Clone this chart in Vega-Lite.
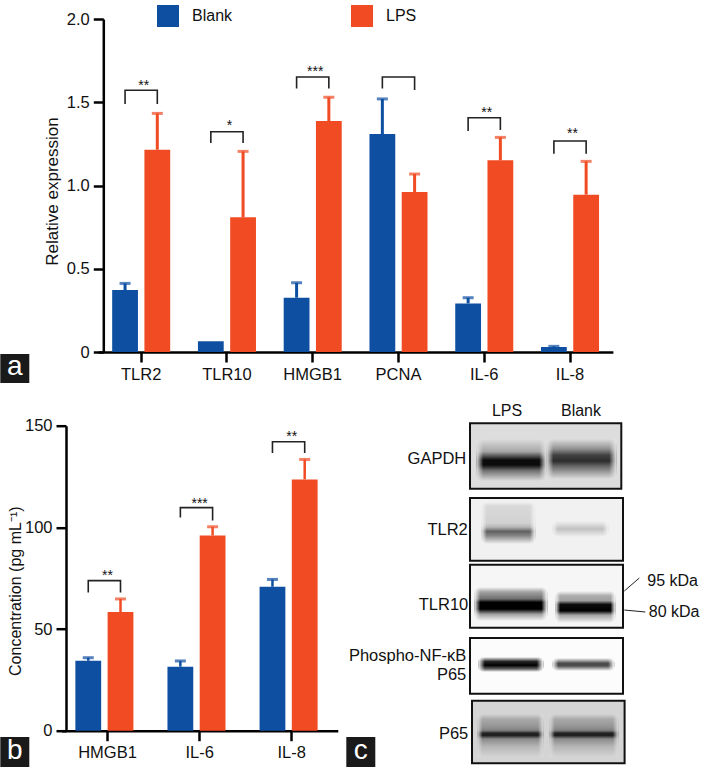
{
"$schema":"https://vega.github.io/schema/vega-lite/v6.json",
"background":"white",
"padding":{"left":0,"top":5,"right":0,"bottom":0},
"bounds":"flush",
"spacing":73.7,
"config":{"view":{"stroke":null},"font":"Liberation Sans","axis":{"grid":false,"domainColor":"#000","tickColor":"#000","domainWidth":2.5,"tickWidth":2.5,"tickSize":10,"labelColor":"#111","titleColor":"#111","labelFontSize":16.5,"titleFontSize":16,"titleFontWeight":"normal","labelFont":"Liberation Sans","titleFont":"Liberation Sans","labelPadding":4}},
"datasets":{
"expr":[
{"gene":"TLR2","group":"Blank","value":0.372,"upper":0.412},{"gene":"TLR2","group":"LPS","value":1.215,"upper":1.433},
{"gene":"TLR10","group":"Blank","value":0.064,"upper":null},{"gene":"TLR10","group":"LPS","value":0.809,"upper":1.205},
{"gene":"HMGB1","group":"Blank","value":0.326,"upper":0.416},{"gene":"HMGB1","group":"LPS","value":1.387,"upper":1.53},
{"gene":"PCNA","group":"Blank","value":1.309,"upper":1.52},{"gene":"PCNA","group":"LPS","value":0.961,"upper":1.069},
{"gene":"IL-6","group":"Blank","value":0.292,"upper":0.326},{"gene":"IL-6","group":"LPS","value":1.151,"upper":1.289},
{"gene":"IL-8","group":"Blank","value":0.03,"upper":0.034},{"gene":"IL-8","group":"LPS","value":0.945,"upper":1.145}],
"exprBr":[
{"gene":"TLR2","group":"Blank","y":1.49,"seq":1},{"gene":"TLR2","group":"Blank","y":1.572,"seq":2},{"gene":"TLR2","group":"LPS","y":1.572,"seq":3},{"gene":"TLR2","group":"LPS","y":1.49,"seq":4},
{"gene":"TLR10","group":"Blank","y":1.255,"seq":1},{"gene":"TLR10","group":"Blank","y":1.323,"seq":2},{"gene":"TLR10","group":"LPS","y":1.323,"seq":3},{"gene":"TLR10","group":"LPS","y":1.255,"seq":4},
{"gene":"HMGB1","group":"Blank","y":1.582,"seq":1},{"gene":"HMGB1","group":"Blank","y":1.652,"seq":2},{"gene":"HMGB1","group":"LPS","y":1.652,"seq":3},{"gene":"HMGB1","group":"LPS","y":1.582,"seq":4},
{"gene":"PCNA","group":"Blank","y":1.582,"seq":1},{"gene":"PCNA","group":"Blank","y":1.652,"seq":2},{"gene":"PCNA","group":"LPS","y":1.652,"seq":3},{"gene":"PCNA","group":"LPS","y":1.574,"seq":4},
{"gene":"IL-6","group":"Blank","y":1.327,"seq":1},{"gene":"IL-6","group":"Blank","y":1.407,"seq":2},{"gene":"IL-6","group":"LPS","y":1.407,"seq":3},{"gene":"IL-6","group":"LPS","y":1.333,"seq":4},
{"gene":"IL-8","group":"Blank","y":1.19,"seq":1},{"gene":"IL-8","group":"Blank","y":1.267,"seq":2},{"gene":"IL-8","group":"LPS","y":1.267,"seq":3},{"gene":"IL-8","group":"LPS","y":1.19,"seq":4}],
"exprStars":[{"gene":"TLR2","stars":"**","y":1.614},{"gene":"TLR10","stars":"*","y":1.373},{"gene":"HMGB1","stars":"***","y":1.698},{"gene":"IL-6","stars":"**","y":1.451},{"gene":"IL-8","stars":"**","y":1.325}],
"conc":[
{"gene":"HMGB1","group":"Blank","value":34.4,"upper":35.9},{"gene":"HMGB1","group":"LPS","value":58.4,"upper":64.8},
{"gene":"IL-6","group":"Blank","value":31.5,"upper":34.3},{"gene":"IL-6","group":"LPS","value":96,"upper":100.3},
{"gene":"IL-8","group":"Blank","value":70.8,"upper":74.4},{"gene":"IL-8","group":"LPS","value":123.6,"upper":133.4}],
"concBr":[
{"gene":"HMGB1","group":"Blank","y":68,"seq":1},{"gene":"HMGB1","group":"Blank","y":73.8,"seq":2},{"gene":"HMGB1","group":"LPS","y":73.8,"seq":3},{"gene":"HMGB1","group":"LPS","y":68,"seq":4},
{"gene":"IL-6","group":"Blank","y":104.8,"seq":1},{"gene":"IL-6","group":"Blank","y":109.7,"seq":2},{"gene":"IL-6","group":"LPS","y":109.7,"seq":3},{"gene":"IL-6","group":"LPS","y":103.4,"seq":4},
{"gene":"IL-8","group":"Blank","y":136.6,"seq":1},{"gene":"IL-8","group":"Blank","y":142.1,"seq":2},{"gene":"IL-8","group":"LPS","y":142.1,"seq":3},{"gene":"IL-8","group":"LPS","y":136.6,"seq":4}],
"concStars":[{"gene":"HMGB1","stars":"**","y":77.5},{"gene":"IL-6","stars":"***","y":113},{"gene":"IL-8","stars":"**","y":146}],
"frames":[
{"blot":"GAPDH","x":469.7,"x2":621,"y":424.3,"y2":489.7,"density":0.12},{"blot":"TLR2","x":469.7,"x2":622.7,"y":499,"y2":561.7,"density":0.05},{"blot":"TLR10","x":469.7,"x2":622.7,"y":565.7,"y2":628.7,"density":0.03},{"blot":"Phospho","x":469.7,"x2":622.7,"y":639,"y2":694.7,"density":0.01},{"blot":"P65","x":471.7,"x2":624.3,"y":701.7,"y2":764.3,"density":0.15}],
"lanes":[
{"band":"GAPDH LPS","blot":"GAPDH","x":476,"x2":546,"y":440,"y2":482},
{"band":"GAPDH Blank","blot":"GAPDH","x":546,"x2":616,"y":440,"y2":480},
{"band":"TLR2 LPS","blot":"TLR2","x":481,"x2":535,"y":503,"y2":545},
{"band":"TLR2 Blank","blot":"TLR2","x":552,"x2":608,"y":522,"y2":538},
{"band":"TLR10 LPS","blot":"TLR10","x":474,"x2":547,"y":588,"y2":622},
{"band":"TLR10 Blank","blot":"TLR10","x":555,"x2":615,"y":592,"y2":624},
{"band":"Phospho LPS","blot":"Phospho","x":478,"x2":543,"y":658,"y2":673},
{"band":"Phospho Blank","blot":"Phospho","x":552,"x2":614,"y":659,"y2":672},
{"band":"P65 LPS","blot":"P65","x":477,"x2":543,"y":715,"y2":758},
{"band":"P65 Blank","blot":"P65","x":549,"x2":618,"y":715,"y2":758}],
"leaders":[{"x":624,"x2":639,"y":592,"y2":579},{"x":624,"x2":645,"y":611,"y2":613}],
"rightLabels":[{"t":"GAPDH","x":466,"y":460},{"t":"TLR2","x":467.5,"y":531},{"t":"TLR10","x":468,"y":606},{"t":"Phospho-NF-κB","x":466,"y":657},{"t":"P65","x":466,"y":676},{"t":"P65","x":468,"y":735}],
"centerLabels":[{"t":"LPS","x":506.7,"y":412},{"t":"Blank","x":580.7,"y":412}],
"leftLabels":[{"t":"95 kDa","x":647,"y":582},{"t":"80 kDa","x":648.5,"y":613}],
"badges":[{"t":"a","x":0,"x2":29,"y":355,"y2":384,"cx":14.5,"cy":368},{"t":"b","x":0,"x2":29,"y":738,"y2":768,"cx":14.5,"cy":752},{"t":"c","x":346,"x2":375,"y":738,"y2":768,"cx":360.5,"cy":752}]
},
"vconcat":[
{"width":546,"height":333,
"encoding":{
"x":{"field":"gene","type":"nominal","scale":{"domain":["TLR2","TLR10","HMGB1","PCNA","IL-6","IL-8"],"range":[32.3,546.9],"paddingInner":0,"paddingOuter":0},"axis":{"title":null,"labelAngle":0}},
"xOffset":{"field":"group","type":"nominal","scale":{"domain":["Blank","LPS"],"paddingInner":0.2,"paddingOuter":0.43}}
},
"layer":[
{"data":{"name":"expr"},"mark":{"type":"bar"},"encoding":{
"y":{"field":"value","type":"quantitative","scale":{"domain":[0,2],"nice":false},"axis":{"title":"Relative expression","values":[0,0.5,1,1.5,2],"labelExpr":"datum.value==0?'0':format(datum.value,'.1f')","offset":-37.3,"titlePadding":5,"titleFontSize":17,"titleY":172}},
"color":{"field":"group","type":"nominal","scale":{"domain":["Blank","LPS"],"range":["#0F4FA2","#F04B23"]},"legend":{"title":null,"orient":"none","legendX":91,"legendY":-14,"direction":"horizontal","symbolType":"square","symbolSize":484,"symbolStrokeWidth":0,"labelFontSize":16,"labelColor":"#111","labelOffset":13,"columnPadding":118}}}},
{"data":{"name":"expr"},"transform":[{"filter":"datum.upper!=null"}],"mark":{"type":"rule","strokeWidth":3},"encoding":{
"y":{"field":"value","type":"quantitative"},"y2":{"field":"upper"},
"color":{"field":"group","type":"nominal","legend":null}}},
{"data":{"name":"expr"},"transform":[{"filter":"datum.upper!=null"}],"mark":{"type":"tick","thickness":3,"size":11},"encoding":{
"y":{"field":"upper","type":"quantitative"},
"color":{"field":"group","type":"nominal","legend":null}}},
{"data":{"name":"exprBr"},"mark":{"type":"line","color":"#222","strokeWidth":1.6,"xOffset":2},"encoding":{
"y":{"field":"y","type":"quantitative"},"detail":{"field":"gene"},"order":{"field":"seq"}}},
{"data":{"name":"exprStars"},"mark":{"type":"text","fontSize":14,"color":"#111","xOffset":2.5,"dy":3},"encoding":{
"y":{"field":"y","type":"quantitative"},"text":{"field":"stars"},"xOffset":null}}
]},
{"hconcat":[
{"width":266,"height":305,
"encoding":{
"x":{"field":"gene","type":"nominal","scale":{"domain":["HMGB1","IL-6","IL-8"],"range":[-4.5,271.8],"paddingInner":0,"paddingOuter":0},"axis":{"title":null,"labelAngle":0}},
"xOffset":{"field":"group","type":"nominal","scale":{"domain":["Blank","LPS"],"paddingInner":0.3,"paddingOuter":0.4}}
},
"layer":[
{"data":{"name":"conc"},"mark":{"type":"bar"},"encoding":{
"y":{"field":"value","type":"quantitative","scale":{"domain":[0,150],"nice":false},"axis":{"title":"Concentration (pg mL⁻¹)","values":[0,50,100,150],"titlePadding":1,"titleY":165}},
"color":{"field":"group","type":"nominal","scale":{"domain":["Blank","LPS"],"range":["#0F4FA2","#F04B23"]},"legend":null}}},
{"data":{"name":"conc"},"mark":{"type":"rule","strokeWidth":2.5},"encoding":{
"y":{"field":"value","type":"quantitative"},"y2":{"field":"upper"},
"color":{"field":"group","type":"nominal","legend":null}}},
{"data":{"name":"conc"},"mark":{"type":"tick","thickness":3,"size":11},"encoding":{
"y":{"field":"upper","type":"quantitative"},
"color":{"field":"group","type":"nominal","legend":null}}},
{"data":{"name":"concBr"},"mark":{"type":"line","color":"#222","strokeWidth":1.6},"encoding":{
"y":{"field":"y","type":"quantitative"},"detail":{"field":"gene"},"order":{"field":"seq"}}},
{"data":{"name":"concStars"},"mark":{"type":"text","fontSize":14,"color":"#111","dy":3},"encoding":{
"y":{"field":"y","type":"quantitative"},"text":{"field":"stars"},"xOffset":null}}
]},
{"width":359,"height":341.3,
"encoding":{
"x":{"field":"x","type":"quantitative","scale":{"domain":[346,705],"nice":false,"zero":false},"axis":null},
"y":{"field":"y","type":"quantitative","scale":{"domain":[426.7,768],"reverse":true,"nice":false,"zero":false},"axis":null}
},
"layer":[
{"data":{"name":"frames"},"mark":{"type":"rect"},"encoding":{"x2":{"field":"x2"},"y2":{"field":"y2"},"color":{"field":"density","type":"quantitative","scale":{"domain":[0,1],"range":["#ffffff","#000000"]},"legend":null}}},
{"data":{"name":"lanes"},"transform":[{"filter":"datum.band=='GAPDH LPS'"}],"mark":{"type":"rect","cornerRadius":6,"fill":{"gradient":"linear","x1":0,"y1":0,"x2":0,"y2":1,"stops":[{"offset":0,"color":"rgba(0,0,0,0)"},{"offset":0.3,"color":"rgba(0,0,0,0.25)"},{"offset":0.4,"color":"rgba(0,0,0,0.6)"},{"offset":0.5,"color":"rgba(0,0,0,0.95)"},{"offset":0.62,"color":"rgba(0,0,0,0.95)"},{"offset":0.75,"color":"rgba(0,0,0,0.5)"},{"offset":1,"color":"rgba(0,0,0,0)"}]}},"encoding":{"x2":{"field":"x2"},"y2":{"field":"y2"}}},
{"data":{"name":"lanes"},"transform":[{"filter":"datum.band=='GAPDH Blank'"}],"mark":{"type":"rect","cornerRadius":6,"fill":{"gradient":"linear","x1":0,"y1":0,"x2":0,"y2":1,"stops":[{"offset":0,"color":"rgba(0,0,0,0)"},{"offset":0.25,"color":"rgba(0,0,0,0.35)"},{"offset":0.4,"color":"rgba(0,0,0,0.7)"},{"offset":0.55,"color":"rgba(0,0,0,0.8)"},{"offset":0.7,"color":"rgba(0,0,0,0.5)"},{"offset":1,"color":"rgba(0,0,0,0)"}]}},"encoding":{"x2":{"field":"x2"},"y2":{"field":"y2"}}},
{"data":{"name":"lanes"},"transform":[{"filter":"datum.band=='TLR2 LPS'"}],"mark":{"type":"rect","cornerRadius":6,"fill":{"gradient":"linear","x1":0,"y1":0,"x2":0,"y2":1,"stops":[{"offset":0,"color":"rgba(0,0,0,0)"},{"offset":0.1,"color":"rgba(0,0,0,0.1)"},{"offset":0.5,"color":"rgba(0,0,0,0.13)"},{"offset":0.6,"color":"rgba(0,0,0,0.25)"},{"offset":0.7,"color":"rgba(0,0,0,0.6)"},{"offset":0.8,"color":"rgba(0,0,0,0.45)"},{"offset":1,"color":"rgba(0,0,0,0)"}]}},"encoding":{"x2":{"field":"x2"},"y2":{"field":"y2"}}},
{"data":{"name":"lanes"},"transform":[{"filter":"datum.band=='TLR2 Blank'"}],"mark":{"type":"rect","cornerRadius":5,"fill":{"gradient":"linear","x1":0,"y1":0,"x2":0,"y2":1,"stops":[{"offset":0,"color":"rgba(0,0,0,0)"},{"offset":0.5,"color":"rgba(0,0,0,0.2)"},{"offset":1,"color":"rgba(0,0,0,0)"}]}},"encoding":{"x2":{"field":"x2"},"y2":{"field":"y2"}}},
{"data":{"name":"lanes"},"transform":[{"filter":"datum.band=='TLR10 LPS'"}],"mark":{"type":"rect","cornerRadius":6,"fill":{"gradient":"linear","x1":0,"y1":0,"x2":0,"y2":1,"stops":[{"offset":0,"color":"rgba(0,0,0,0)"},{"offset":0.15,"color":"rgba(0,0,0,0.35)"},{"offset":0.35,"color":"rgba(0,0,0,0.55)"},{"offset":0.45,"color":"rgba(0,0,0,1)"},{"offset":0.65,"color":"rgba(0,0,0,1)"},{"offset":0.8,"color":"rgba(0,0,0,0.35)"},{"offset":1,"color":"rgba(0,0,0,0)"}]}},"encoding":{"x2":{"field":"x2"},"y2":{"field":"y2"}}},
{"data":{"name":"lanes"},"transform":[{"filter":"datum.band=='TLR10 Blank'"}],"mark":{"type":"rect","cornerRadius":6,"fill":{"gradient":"linear","x1":0,"y1":0,"x2":0,"y2":1,"stops":[{"offset":0,"color":"rgba(0,0,0,0)"},{"offset":0.15,"color":"rgba(0,0,0,0.3)"},{"offset":0.3,"color":"rgba(0,0,0,0.35)"},{"offset":0.42,"color":"rgba(0,0,0,0.95)"},{"offset":0.62,"color":"rgba(0,0,0,1)"},{"offset":0.75,"color":"rgba(0,0,0,0.35)"},{"offset":1,"color":"rgba(0,0,0,0)"}]}},"encoding":{"x2":{"field":"x2"},"y2":{"field":"y2"}}},
{"data":{"name":"lanes"},"transform":[{"filter":"datum.band=='Phospho LPS'"}],"mark":{"type":"rect","cornerRadius":5,"fill":{"gradient":"linear","x1":0,"y1":0,"x2":0,"y2":1,"stops":[{"offset":0,"color":"rgba(0,0,0,0)"},{"offset":0.3,"color":"rgba(0,0,0,0.85)"},{"offset":0.55,"color":"rgba(0,0,0,1)"},{"offset":0.8,"color":"rgba(0,0,0,0.6)"},{"offset":1,"color":"rgba(0,0,0,0)"}]}},"encoding":{"x2":{"field":"x2"},"y2":{"field":"y2"}}},
{"data":{"name":"lanes"},"transform":[{"filter":"datum.band=='Phospho Blank'"}],"mark":{"type":"rect","cornerRadius":5,"fill":{"gradient":"linear","x1":0,"y1":0,"x2":0,"y2":1,"stops":[{"offset":0,"color":"rgba(0,0,0,0)"},{"offset":0.4,"color":"rgba(0,0,0,0.7)"},{"offset":0.6,"color":"rgba(0,0,0,0.7)"},{"offset":1,"color":"rgba(0,0,0,0)"}]}},"encoding":{"x2":{"field":"x2"},"y2":{"field":"y2"}}},
{"data":{"name":"lanes"},"transform":[{"filter":"datum.blot=='P65'"}],"mark":{"type":"rect","cornerRadius":6,"fill":{"gradient":"linear","x1":0,"y1":0,"x2":0,"y2":1,"stops":[{"offset":0,"color":"rgba(0,0,0,0)"},{"offset":0.12,"color":"rgba(0,0,0,0.2)"},{"offset":0.3,"color":"rgba(0,0,0,0.3)"},{"offset":0.38,"color":"rgba(0,0,0,0.4)"},{"offset":0.45,"color":"rgba(0,0,0,0.85)"},{"offset":0.5,"color":"rgba(0,0,0,0.85)"},{"offset":0.58,"color":"rgba(0,0,0,0.35)"},{"offset":0.75,"color":"rgba(0,0,0,0.15)"},{"offset":1,"color":"rgba(0,0,0,0)"}]}},"encoding":{"x2":{"field":"x2"},"y2":{"field":"y2"}}},
{"data":{"name":"lanes"},"transform":[{"filter":"datum.blot=='GAPDH'"}],"mark":{"type":"rect","fill":{"gradient":"linear","x1":0,"y1":0,"x2":1,"y2":0,"stops":[{"offset":0,"color":"rgba(224,224,224,1)"},{"offset":0.1,"color":"rgba(224,224,224,0)"},{"offset":0.9,"color":"rgba(224,224,224,0)"},{"offset":1,"color":"rgba(224,224,224,1)"}]}},"encoding":{"x2":{"field":"x2"},"y2":{"field":"y2"}}},
{"data":{"name":"lanes"},"transform":[{"filter":"datum.blot=='TLR2'"}],"mark":{"type":"rect","fill":{"gradient":"linear","x1":0,"y1":0,"x2":1,"y2":0,"stops":[{"offset":0,"color":"rgba(242,242,242,1)"},{"offset":0.1,"color":"rgba(242,242,242,0)"},{"offset":0.9,"color":"rgba(242,242,242,0)"},{"offset":1,"color":"rgba(242,242,242,1)"}]}},"encoding":{"x2":{"field":"x2"},"y2":{"field":"y2"}}},
{"data":{"name":"lanes"},"transform":[{"filter":"datum.blot=='TLR10'"}],"mark":{"type":"rect","fill":{"gradient":"linear","x1":0,"y1":0,"x2":1,"y2":0,"stops":[{"offset":0,"color":"rgba(247,247,247,1)"},{"offset":0.08,"color":"rgba(247,247,247,0)"},{"offset":0.92,"color":"rgba(247,247,247,0)"},{"offset":1,"color":"rgba(247,247,247,1)"}]}},"encoding":{"x2":{"field":"x2"},"y2":{"field":"y2"}}},
{"data":{"name":"lanes"},"transform":[{"filter":"datum.blot=='Phospho'"}],"mark":{"type":"rect","fill":{"gradient":"linear","x1":0,"y1":0,"x2":1,"y2":0,"stops":[{"offset":0,"color":"rgba(252,252,252,1)"},{"offset":0.1,"color":"rgba(252,252,252,0)"},{"offset":0.9,"color":"rgba(252,252,252,0)"},{"offset":1,"color":"rgba(252,252,252,1)"}]}},"encoding":{"x2":{"field":"x2"},"y2":{"field":"y2"}}},
{"data":{"name":"lanes"},"transform":[{"filter":"datum.blot=='P65'"}],"mark":{"type":"rect","fill":{"gradient":"linear","x1":0,"y1":0,"x2":1,"y2":0,"stops":[{"offset":0,"color":"rgba(217,217,217,1)"},{"offset":0.08,"color":"rgba(217,217,217,0)"},{"offset":0.92,"color":"rgba(217,217,217,0)"},{"offset":1,"color":"rgba(217,217,217,1)"}]}},"encoding":{"x2":{"field":"x2"},"y2":{"field":"y2"}}},
{"data":{"name":"frames"},"mark":{"type":"rect","fill":null,"stroke":"#111","strokeWidth":2},"encoding":{"x2":{"field":"x2"},"y2":{"field":"y2"}}},
{"data":{"name":"leaders"},"mark":{"type":"rule","color":"#222","strokeWidth":1},"encoding":{"x2":{"field":"x2"},"y2":{"field":"y2"}}},
{"data":{"name":"rightLabels"},"mark":{"type":"text","align":"right","baseline":"middle","fontSize":16.5,"color":"#111"},"encoding":{"text":{"field":"t"}}},
{"data":{"name":"centerLabels"},"mark":{"type":"text","align":"center","baseline":"middle","fontSize":16,"color":"#111"},"encoding":{"text":{"field":"t"}}},
{"data":{"name":"leftLabels"},"mark":{"type":"text","align":"left","baseline":"middle","fontSize":16,"color":"#111"},"encoding":{"text":{"field":"t"}}},
{"data":{"name":"badges"},"mark":{"type":"rect","color":"#1a1a1a"},"encoding":{"x2":{"field":"x2"},"y2":{"field":"y2"}}},
{"data":{"name":"badges"},"mark":{"type":"text","align":"center","baseline":"middle","fontSize":28,"color":"#fff"},"encoding":{"x":{"field":"cx","type":"quantitative","scale":{"domain":[346,705],"nice":false,"zero":false},"axis":null},"y":{"field":"cy","type":"quantitative","scale":{"domain":[426.7,768],"reverse":true,"nice":false,"zero":false},"axis":null},"text":{"field":"t"}}}
]}
],"spacing":14.3,"bounds":"flush"}
]
}
